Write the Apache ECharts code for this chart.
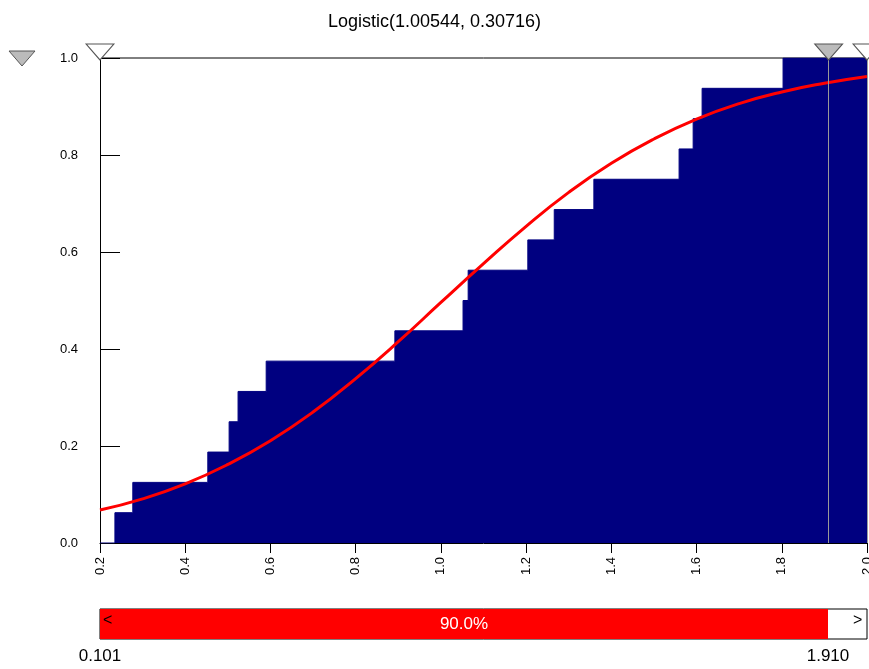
<!DOCTYPE html>
<html>
<head>
<meta charset="UTF-8">
<script src="https://cdn.jsdelivr.net/npm/echarts@6/dist/echarts.min.js"></script>
</head>
<body style="margin:0">
<div id="main" style="width:869px;height:669px"></div>
<script>
  // empirical CDF steps (x where step occurs, value after step)
  const stepX = [0.2, 0.235, 0.277, 0.453, 0.503, 0.524, 0.590, 0.892, 1.052, 1.064, 1.204, 1.266, 1.359, 1.559, 1.592, 1.613, 1.803, 2.0]
  const stepY = [0, 0.0625, 0.125, 0.1875, 0.25, 0.3125, 0.375, 0.4375, 0.5, 0.5625, 0.625, 0.6875, 0.75, 0.8125, 0.875, 0.9375, 1.0, 1.0]
  // fitted Logistic curve
  const fitX = [0.2, 0.3, 0.4, 0.5, 0.6, 0.7, 0.8, 0.9, 1.0, 1.1, 1.2, 1.3, 1.4, 1.5, 1.6, 1.7, 1.8, 1.9, 2.0]
  const fitY = [0.068, 0.091, 0.122, 0.162, 0.211, 0.270, 0.339, 0.415, 0.496, 0.576, 0.653, 0.723, 0.783, 0.833, 0.874, 0.906, 0.930, 0.948, 0.962]
  const leftMark = 0.101, rightMark = 1.910

  const font = 'Liberation Sans, Arial, sans-serif'
  const chart = echarts.init(document.getElementById('main'))
  const tri = (x, fill) => ({
    coord: [x, 1], symbol: 'triangle', symbolRotate: 180, symbolSize: [28, 16],
    symbolOffset: [0, -6], itemStyle: { color: fill, borderColor: '#555', borderWidth: 1 }
  })
  chart.setOption({
    animation: false,
    title: { text: 'Logistic(1.00544, 0.30716)', left: 'center', top: 8,
      textStyle: { fontFamily: font, fontSize: 18, fontWeight: 'normal', color: '#000' } },
    grid: { left: 100, right: 2, top: 58, bottom: 126, containLabel: false, outerBoundsMode: 'none' },
    xAxis: {
      type: 'value', min: 0.2, max: 2.0, interval: 0.2,
      axisLine: { lineStyle: { color: '#000' } },
      axisTick: { length: 10, lineStyle: { color: '#000' } },
      axisLabel: { rotate: 90, fontFamily: font, fontSize: 13, color: '#000', margin: 14,
        formatter: v => v.toFixed(1) },
      splitLine: { show: false }
    },
    yAxis: {
      type: 'value', min: 0, max: 1, interval: 0.2,
      axisLine: { show: true, lineStyle: { color: '#000' } },
      axisTick: { inside: true, length: 20, lineStyle: { color: '#000' } },
      axisLabel: { fontFamily: font, fontSize: 13, color: '#000', margin: 22,
        formatter: v => v.toFixed(1) },
      splitLine: { show: false }
    },
    graphic: [
      { type: 'line', shape: { x1: 100, y1: 58, x2: 867, y2: 58 }, style: { stroke: '#000', lineWidth: 1 } },
      { type: 'polygon', shape: { points: [[9, 51], [35, 51], [22, 66]] }, style: { fill: '#bbb', stroke: '#555' } },
      { type: 'rect', shape: { x: 100, y: 609, width: 767, height: 30 }, style: { fill: '#fff', stroke: '#000' } },
      { type: 'rect', shape: { x: 100, y: 609, width: 728, height: 30 }, style: { fill: '#ff0000' } },
      { type: 'text', left: 103, top: 613, style: { text: '<', fill: '#000', font: '16px ' + font } },
      { type: 'text', left: 853, top: 613, style: { text: '>', fill: '#000', font: '16px ' + font } },
      { type: 'text', x: 464, y: 624, style: { text: '90.0%', fill: '#fff', font: '17px ' + font, align: 'center', verticalAlign: 'middle' } },
      { type: 'text', x: 100, y: 656, style: { text: leftMark.toFixed(3), fill: '#000', font: '17px ' + font, align: 'center', verticalAlign: 'middle' } },
      { type: 'text', x: 828, y: 656, style: { text: rightMark.toFixed(3), fill: '#000', font: '17px ' + font, align: 'center', verticalAlign: 'middle' } }
    ],
    series: [
      {
        type: 'line', step: 'end', symbol: 'none', z: 1,
        data: stepX.map((x, i) => [x, stepY[i]]),
        lineStyle: { color: '#000080', width: 1 },
        areaStyle: { color: '#000080', opacity: 1 },
        markLine: {
          silent: true, symbol: 'none', label: { show: false },
          lineStyle: { color: '#999', type: 'solid', width: 1 },
          data: [{ xAxis: rightMark }, { xAxis: 2.0 }]
        },
        markPoint: { silent: true, label: { show: false },
          data: [tri(0.2, '#fff'), tri(rightMark, '#bbb'), tri(2.0, '#fff')] }
      },
      {
        type: 'line', smooth: true, symbol: 'none', z: 3,
        data: fitX.map((x, i) => [x, fitY[i]]),
        lineStyle: { color: '#ff0000', width: 3 }
      }
    ]
  })
</script>
</body>
</html>
